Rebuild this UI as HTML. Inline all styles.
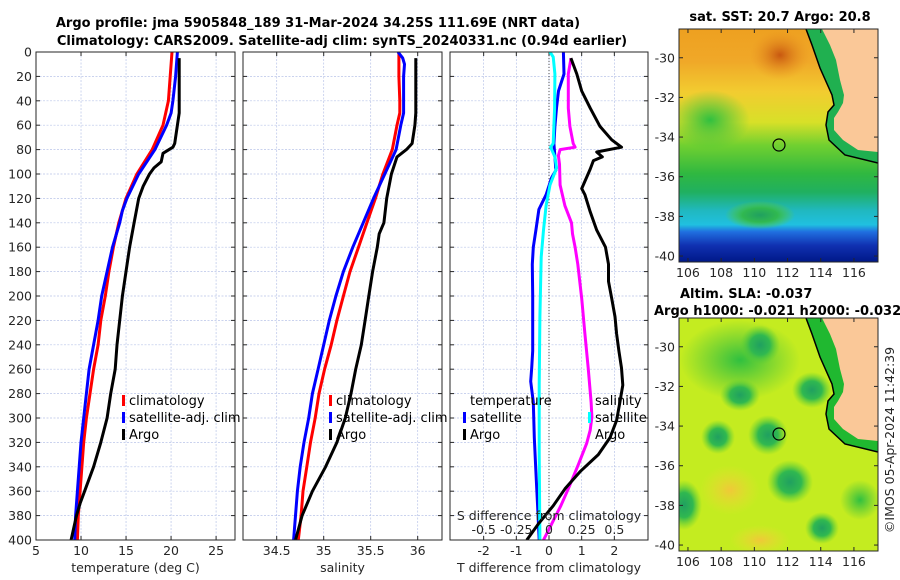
<!DOCTYPE html>
<html><head><meta charset="utf-8"><style>
html,body{margin:0;padding:0;background:#fff}
svg{display:block;font-family:"DejaVu Sans","Liberation Sans",sans-serif}
.tk{font-size:12.5px;fill:#262626}
.ttl{font-size:13px;font-weight:bold;fill:#000}
.lg{font-size:13px;fill:#000}
</style></head><body>
<svg id="fig" width="900" height="580" viewBox="0 0 900 580" xmlns="http://www.w3.org/2000/svg">
<defs>
<linearGradient id="sstg" x1="0" y1="0" x2="0" y2="1">
<stop offset="0" stop-color="#eea020"/><stop offset="0.14" stop-color="#f0a828"/>
<stop offset="0.27" stop-color="#f2cc30"/><stop offset="0.40" stop-color="#d8e028"/>
<stop offset="0.50" stop-color="#70d030"/><stop offset="0.62" stop-color="#30b840"/>
<stop offset="0.70" stop-color="#20b060"/><stop offset="0.78" stop-color="#20b8c0"/>
<stop offset="0.84" stop-color="#20c0e0"/><stop offset="0.87" stop-color="#2070e0"/>
<stop offset="0.93" stop-color="#1030b0"/><stop offset="1" stop-color="#001888"/>
</linearGradient>
<radialGradient id="dg"><stop offset="0" stop-color="#20a060"/><stop offset="0.5" stop-color="#30b850"/><stop offset="1" stop-color="#60d030" stop-opacity="0"/></radialGradient>
<radialGradient id="og"><stop offset="0" stop-color="#f0c838"/><stop offset="1" stop-color="#e8e030" stop-opacity="0"/></radialGradient>
<radialGradient id="rg"><stop offset="0" stop-color="#c85810"/><stop offset="1" stop-color="#e89020" stop-opacity="0"/></radialGradient>
<radialGradient id="gg"><stop offset="0" stop-color="#30c040"/><stop offset="1" stop-color="#40c040" stop-opacity="0"/></radialGradient>
<clipPath id="c1"><rect x="679" y="29" width="199" height="233"/></clipPath>
<clipPath id="c2"><rect x="679" y="318" width="199" height="233"/></clipPath>
<clipPath id="pc1"><rect x="36" y="52" width="199" height="488"/></clipPath>
<clipPath id="pc2"><rect x="243" y="52" width="199" height="488"/></clipPath>
<clipPath id="pc3"><rect x="450" y="52" width="198" height="488"/></clipPath>
</defs>
<text class="ttl" x="318" y="27" text-anchor="middle">Argo profile: jma 5905848_189 31-Mar-2024 34.25S 111.69E (NRT data)</text>
<text class="ttl" x="342" y="45" text-anchor="middle">Climatology: CARS2009. Satellite-adj clim: synTS_20240331.nc (0.94d earlier)</text>
<g id="panels"></g>

<!-- SST map -->
<g>
<text class="ttl" x="780" y="21" text-anchor="middle">sat. SST: 20.7 Argo: 20.8</text>
<g clip-path="url(#c1)">
<rect x="679" y="29" width="199" height="233" fill="url(#sstg)"/>
<ellipse cx="780" cy="55" rx="30" ry="25" fill="url(#rg)"/>
<ellipse cx="710" cy="120" rx="40" ry="30" fill="url(#gg)"/>
<ellipse cx="760" cy="215" rx="35" ry="14" fill="url(#dg)"/>
<polygon points="806,29 812,45 820,68 832,95 834,105 828,112 826,125 829,140 845,155 878,163 878,29" fill="#20b050"/>
<polygon points="822,29 830,45 836,60 840,80 844,95 843,103 838,112 834,118 834,130 843,140 858,150 878,152 878,29" fill="#fac898"/>
<polyline points="806,29 812,45 820,68 832,95 834,105 828,112 826,125 829,140 845,155 878,163" fill="none" stroke="#000" stroke-width="1.5"/>
<circle cx="779" cy="145" r="6" fill="none" stroke="#000" stroke-width="1.2"/>
</g>
<rect x="679" y="29" width="199" height="233" fill="none" stroke="#262626" stroke-width="1"/>
</g>
<!-- SLA map -->
<g>
<text class="ttl" x="680" y="298">Altim. SLA: -0.037</text>
<text class="ttl" x="654" y="315">Argo h1000: -0.021 h2000: -0.032</text>
<g clip-path="url(#c2)">
<rect x="679" y="318" width="199" height="233" fill="#c4ec20"/>
<ellipse cx="740" cy="360" rx="60" ry="40" fill="url(#gg)"/>
<ellipse cx="760" cy="345" rx="20" ry="20" fill="url(#dg)"/>
<ellipse cx="740" cy="395" rx="20" ry="16" fill="url(#dg)"/>
<ellipse cx="768" cy="435" rx="20" ry="20" fill="url(#dg)"/>
<ellipse cx="718" cy="437" rx="17" ry="17" fill="url(#dg)"/>
<ellipse cx="790" cy="482" rx="23" ry="22" fill="url(#dg)"/>
<ellipse cx="812" cy="390" rx="20" ry="18" fill="url(#dg)"/>
<ellipse cx="822" cy="528" rx="17" ry="16" fill="url(#dg)"/>
<ellipse cx="684" cy="505" rx="18" ry="25" fill="url(#dg)"/>
<ellipse cx="860" cy="500" rx="20" ry="20" fill="url(#gg)"/>
<ellipse cx="730" cy="490" rx="30" ry="25" fill="url(#og)"/>
<ellipse cx="760" cy="540" rx="30" ry="15" fill="url(#og)"/>
<g transform="translate(0,318) scale(1,1.0) translate(0,-29)">
<polygon points="806,29 812,45 820,68 832,95 834,105 828,112 826,125 829,140 845,155 878,163 878,29" fill="#20b830"/>
<polygon points="822,29 830,45 836,60 840,80 844,95 843,103 838,112 834,118 834,130 843,140 858,150 878,152 878,29" fill="#fac898"/>
<polyline points="806,29 812,45 820,68 832,95 834,105 828,112 826,125 829,140 845,155 878,163" fill="none" stroke="#000" stroke-width="1.5"/>
</g>
<circle cx="779" cy="434" r="6" fill="none" stroke="#000" stroke-width="1.2"/>
</g>
<rect x="679" y="318" width="199" height="233" fill="none" stroke="#262626" stroke-width="1"/>
</g>
<g id="maptk"></g>
<text class="tk" transform="translate(894,440) rotate(-90)" text-anchor="middle">©IMOS 05-Apr-2024 11:42:39</text>
</svg>
<script>
// ---- data ----
const depthTicks = [0,20,40,60,80,100,120,140,160,180,200,220,240,260,280,300,320,340,360,380,400];
const tempTicks = [5,10,15,20,25];
const salTicks = [34.5,35,35.5,36];
const tdiffTicks = [-2,-1,0,1,2];
const sdiffTicks = [-0.5,-0.25,0,0.25,0.5];
const sdiffTickLabels = ["-0.5","-0.25","0","0.25","0.5"];

const tClimDepth = [0,10,20,40,60,80,100,120,140,160,180,200,220,240,260,280,300,320,340,360,380,400];
const tClim = [20.1,20.0,19.9,19.7,19.1,17.9,16.2,15.0,14.2,13.6,13.1,12.7,12.2,11.9,11.4,11.0,10.6,10.3,10.1,9.9,9.7,9.6];
const tSatDepth = [0,20,40,50,60,80,100,120,130,140,160,180,200,220,240,260,280,300,320,340,360,380,400];
const tSat = [20.7,20.5,20.2,20.0,19.5,18.2,16.4,15.1,14.6,14.3,13.5,12.9,12.3,11.9,11.4,10.9,10.6,10.3,10.0,9.8,9.6,9.4,9.3];
const tArgoDepth = [5,50,60,75,78,83,90,95,100,110,120,140,160,180,200,220,240,260,280,300,320,340,360,370,380,400];
const tArgo = [20.9,20.9,20.7,20.4,20.2,19.1,18.9,18.1,17.6,16.9,16.4,15.9,15.4,15.0,14.6,14.3,14.0,13.8,13.3,12.9,12.2,11.4,10.4,9.9,9.5,8.9];

const sClimDepth = [0,20,40,50,60,80,100,120,140,160,180,200,220,240,260,280,300,320,340,360,380,400];
const sClim = [35.80,35.80,35.81,35.81,35.78,35.73,35.63,35.55,35.46,35.37,35.28,35.21,35.14,35.08,35.01,34.95,34.91,34.86,34.82,34.78,34.76,34.73];
const sSatDepth = [0,5,10,20,50,60,80,100,120,140,160,180,200,220,240,260,280,300,320,340,360,380,400];
const sSat = [35.79,35.84,35.86,35.85,35.85,35.82,35.77,35.65,35.53,35.42,35.31,35.21,35.13,35.06,35.00,34.94,34.88,34.84,34.79,34.75,34.72,34.70,34.68];
const sArgoDepth = [5,50,60,75,80,86,100,120,140,149,160,180,200,220,240,260,280,300,320,340,360,380,400];
const sArgo = [35.98,35.98,35.97,35.94,35.88,35.78,35.72,35.67,35.64,35.59,35.57,35.52,35.48,35.44,35.40,35.34,35.29,35.23,35.14,35.02,34.88,34.77,34.70];

const tdSatDepth = [0,18,32,46,61,75,86,97,103,117,129,146,160,174,200,245,259,270,287,316,344,372,400];
const tdSat = [0.44,0.46,0.29,0.23,0.18,0.15,0.18,0.21,0.08,-0.09,-0.31,-0.40,-0.48,-0.51,-0.50,-0.50,-0.53,-0.56,-0.48,-0.45,-0.40,-0.35,-0.30];
const sdSatDepth = [0,4,18,46,75,78,86,95,109,126,146,168,217,273,330,400];
const sdSat = [0.008,0.032,0.045,0.043,0.032,0.012,0.045,0.058,0.008,-0.022,-0.042,-0.060,-0.070,-0.075,-0.075,-0.070];
const sdArgoDepth = [5,18,46,61,75,78,80,85,92,109,126,140,149,160,174,202,231,259,287,299,310,321,338,358,372,387,400];
const sdArgo = [0.168,0.148,0.148,0.160,0.185,0.200,0.085,0.072,0.080,0.085,0.122,0.172,0.180,0.200,0.220,0.250,0.275,0.300,0.322,0.328,0.315,0.288,0.225,0.148,0.090,0.020,-0.042];
const tdArgoDepth = [5,18,32,46,61,72,78,82,86,89,96,112,117,131,146,160,174,188,202,217,231,245,259,273,287,302,316,330,344,358,372,387,400];
const tdArgo = [0.67,0.85,1.00,1.26,1.56,1.92,2.22,1.46,1.63,1.36,1.26,1.00,1.10,1.26,1.46,1.73,1.82,1.82,1.92,2.02,2.07,2.14,2.22,2.26,2.17,2.07,1.87,1.51,0.95,0.49,0.13,-0.33,-0.68];

const latTicks = [-30,-32,-34,-36,-38,-40];
const lonTicks = [106,108,110,112,114,116];

// ---- scales ----
const Y0=52, Y1=540, D1=400;
const yD = d => Y0 + d/D1*(Y1-Y0);
const NS='http://www.w3.org/2000/svg';
const root=document.getElementById('panels');
function mk(tag, attrs, parent){const e=document.createElementNS(NS,tag);for(const k in attrs)e.setAttribute(k,attrs[k]);(parent||root).appendChild(e);return e;}
function lin(d0,d1,r0,r1){return v=>r0+(v-d0)/(d1-d0)*(r1-r0);}

const panels=[
 {name:'temperature',x0:36,x1:235,xs:lin(5,27.1,36,235),ticks:tempTicks,labels:tempTicks.map(String),xlabel:'temperature (deg C)',clip:'pc1'},
 {name:'salinity',x0:243,x1:442,xs:lin(34.5,36,276.7,417.7),ticks:salTicks,labels:salTicks.map(String),xlabel:'salinity',clip:'pc2'},
 {name:'difference',x0:450,x1:648,xs:lin(-3.03,3.03,450,648),ticks:tdiffTicks,labels:tdiffTicks.map(String),xlabel:'T difference from climatology',clip:'pc3'}
];

function drawLine(g,p,xs,depths,vals,color,name){
  const pts=depths.map((d,i)=>xs(vals[i]).toFixed(1)+','+yD(d).toFixed(1)).join(' ');
  const l=mk('polyline',{points:pts,fill:'none',stroke:color,'stroke-width':3,'stroke-linejoin':'round','clip-path':'url(#'+p.clip+')'},g);
  
  
}
function legend(g,x,y,items){
  items.forEach((it,i)=>{
    const yy=y+i*17;
    if(it.color){mk('rect',{x:x,y:yy-10,width:3,height:11,fill:it.color},g);}
    const t=mk('text',{x:x+7,y:yy,class:'lg'},g);t.textContent=it.text;
    
    
  });
}

panels.forEach((p,pi)=>{
  const g=mk('g',{});
  
  
  mk('rect',{x:p.x0,y:Y0,width:p.x1-p.x0,height:Y1-Y0,fill:'#fff'},g);
  depthTicks.forEach(d=>{ if(d>0&&d<400) mk('line',{x1:p.x0,x2:p.x1,y1:yD(d),y2:yD(d),stroke:'#b8c4e8','stroke-width':0.7,'stroke-dasharray':'2,1.5'},g);});
  p.ticks.forEach(v=>{const x=p.xs(v); mk('line',{x1:x,x2:x,y1:Y0,y2:Y1,stroke:'#b8c4e8','stroke-width':0.7,'stroke-dasharray':'2,1.5'},g);});
  if(pi===2){const x=p.xs(0); mk('line',{x1:x,x2:x,y1:Y0,y2:Y1,stroke:'#555','stroke-width':1,'stroke-dasharray':'1,2'},g);}
  depthTicks.forEach(d=>{const y=yD(d);
    mk('line',{x1:p.x0,x2:p.x0+4,y1:y,y2:y,stroke:'#262626'},g);
    mk('line',{x1:p.x1-4,x2:p.x1,y1:y,y2:y,stroke:'#262626'},g);
    if(pi===0){const t=mk('text',{x:p.x0-4,y:y+4.5,class:'tk','text-anchor':'end'},g);t.textContent=String(d);
      
      }
  });
  p.ticks.forEach((v,i)=>{const x=p.xs(v);
    mk('line',{x1:x,x2:x,y1:Y1,y2:Y1-4,stroke:'#262626'},g);
    mk('line',{x1:x,x2:x,y1:Y0,y2:Y0+4,stroke:'#262626'},g);
    const t=mk('text',{x:x,y:555,class:'tk','text-anchor':'middle'},g);t.textContent=p.labels[i];
    
    
  });
  const xl=mk('text',{x:(p.x0+p.x1)/2,y:572,class:'tk','text-anchor':'middle'},g);xl.textContent=p.xlabel;
  
  

  if(pi===0){
    drawLine(g,p,p.xs,tClimDepth,tClim,'#ff0000','temp-climatology-line');
    drawLine(g,p,p.xs,tSatDepth,tSat,'#0000ff','temp-satellite-line');
    drawLine(g,p,p.xs,tArgoDepth,tArgo,'#000000','temp-argo-line');
    legend(g,122,405,[{color:'#ff0000',text:'climatology'},{color:'#0000ff',text:'satellite-adj. clim'},{color:'#000',text:'Argo'}]);
  } else if(pi===1){
    drawLine(g,p,p.xs,sClimDepth,sClim,'#ff0000','sal-climatology-line');
    drawLine(g,p,p.xs,sSatDepth,sSat,'#0000ff','sal-satellite-line');
    drawLine(g,p,p.xs,sArgoDepth,sArgo,'#000000','sal-argo-line');
    legend(g,329,405,[{color:'#ff0000',text:'climatology'},{color:'#0000ff',text:'satellite-adj. clim'},{color:'#000',text:'Argo'}]);
  } else {
    const ss=v=>p.xs(v*4);
    drawLine(g,p,p.xs,tdSatDepth,tdSat,'#0000ff','tdiff-satellite-line');
    drawLine(g,p,ss,sdSatDepth,sdSat,'#00ffff','sdiff-satellite-line');
    drawLine(g,p,ss,sdArgoDepth,sdArgo,'#ff00ff','sdiff-argo-line');
    drawLine(g,p,p.xs,tdArgoDepth,tdArgo,'#000000','tdiff-argo-line');
    legend(g,463,405,[{color:null,text:'temperature'},{color:'#0000ff',text:'satellite'},{color:'#000',text:'Argo'}]);
    legend(g,588,405,[{color:null,text:'salinity'},{color:'#00ffff',text:'satellite'},{color:null,text:'Argo'}]);
    const sl=mk('text',{x:549,y:520,class:'tk','text-anchor':'middle','font-size':'13'},g);sl.textContent='S difference from climatology';
    
    
    sdiffTicks.forEach((v,i)=>{const t=mk('text',{x:ss(v),y:534,class:'tk','text-anchor':'middle'},g);t.textContent=sdiffTickLabels[i];
      
      });
  }
  mk('rect',{x:p.x0,y:Y0,width:p.x1-p.x0,height:Y1-Y0,fill:'none',stroke:'#262626','stroke-width':1},g);
});

// map ticks
const mt=document.getElementById('maptk');
[[29,262],[318,551]].forEach(([t,b])=>{
  const ly=lin(-28.55,-40.3,t,b), lx=lin(105.46,117.45,679,878);
  latTicks.forEach(v=>{const y=ly(v);
    mk('line',{x1:679,x2:683,y1:y,y2:y,stroke:'#262626'},mt);
    mk('line',{x1:874,x2:878,y1:y,y2:y,stroke:'#262626'},mt);
    const tx=mk('text',{x:675,y:y+4.5,class:'tk','text-anchor':'end'},mt);tx.textContent=String(v);
    
    });
  lonTicks.forEach(v=>{const x=lx(v);
    mk('line',{x1:x,x2:x,y1:b,y2:b-4,stroke:'#262626'},mt);
    mk('line',{x1:x,x2:x,y1:t,y2:t+4,stroke:'#262626'},mt);
    const tx=mk('text',{x:x,y:b+15,class:'tk','text-anchor':'middle'},mt);tx.textContent=String(v);
    
    });
});
</script>
</body></html>
